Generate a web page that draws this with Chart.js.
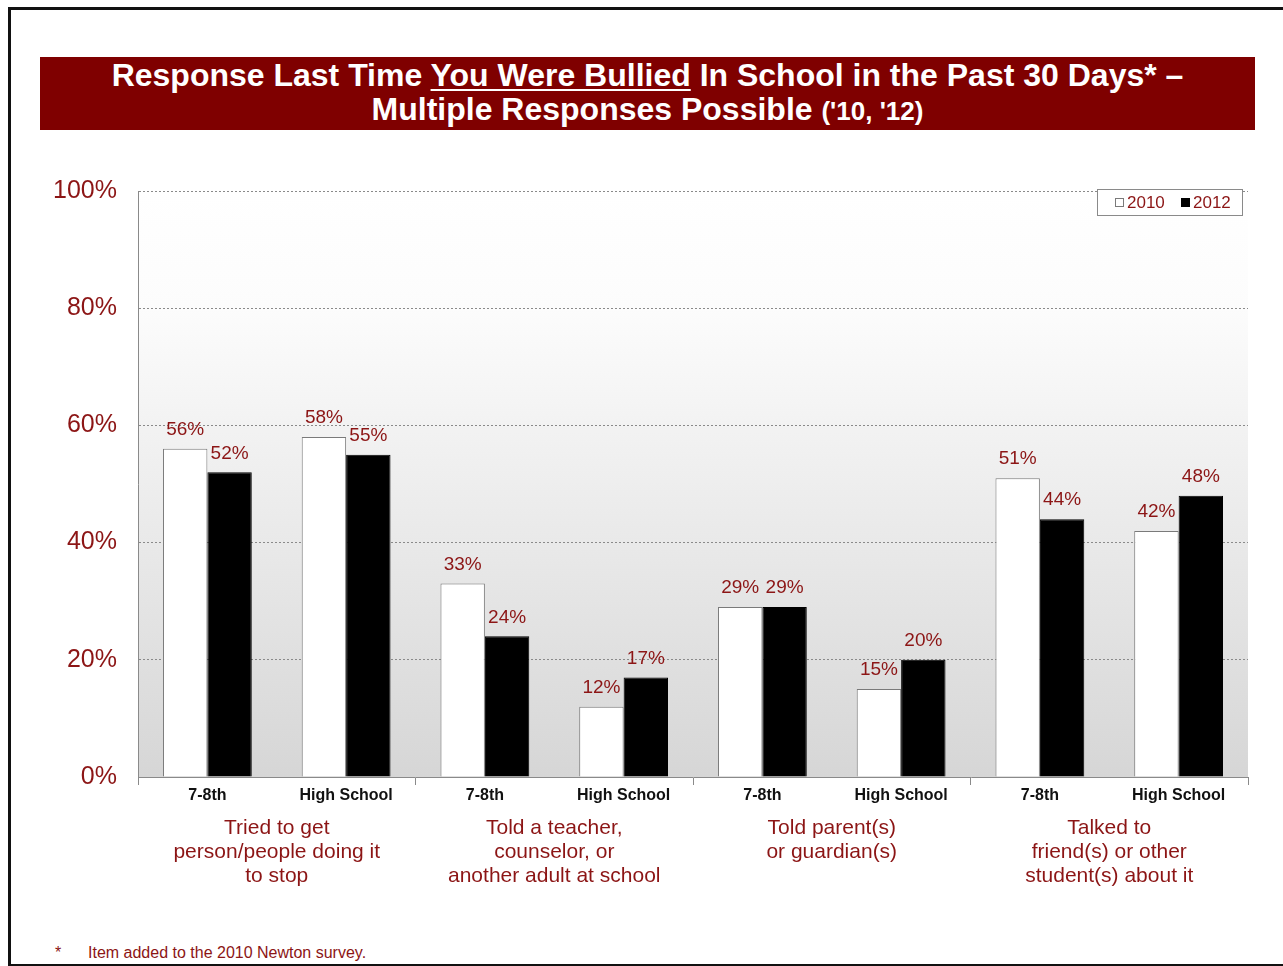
<!DOCTYPE html>
<html>
<head>
<meta charset="utf-8">
<script src="https://cdn.jsdelivr.net/npm/chart.js@4.4.1/dist/chart.umd.min.js"></script>
<style>
  body { margin: 0; background: #fff; width: 1283px; height: 966px; overflow: hidden; position: relative; font-family: 'Liberation Sans', Arial, sans-serif; }
  #slide { position: absolute; left: 8px; top: 7px; width: 1300px; height: 954px; border: 3px solid #111; border-right: none; }
  #banner { position: absolute; left: 40px; top: 57px; width: 1215px; height: 73px; background: #7f0000; color: #fff; text-align: center; font-weight: bold; }
  #banner .line { font-size: 32px; line-height: 34px; white-space: nowrap; }
  #banner .line:first-child { padding-top: 1px; }
  #banner u { text-decoration-thickness: 2px; text-underline-offset: 3px; }
  #banner .yrs { font-size: 26px; }
  #chartBox { position: absolute; left: 40px; top: 155px; }
  #note { position: absolute; left: 55px; top: 944px; font-size: 16px; color: #8c1515; white-space: nowrap; }
  #note span { display: inline-block; width: 33px; }
</style>
</head>
<body>
<div id="slide"></div>
<div id="banner">
  <div class="line">Response Last Time <u>You Were Bullied</u> In School in the Past 30 Days* –</div>
  <div class="line">Multiple Responses Possible <span class="yrs">('10, '12)</span></div>
</div>
<div id="chartBox"><canvas id="chart" width="1220" height="745"></canvas></div>
<div id="note"><span>*</span>Item added to the 2010 Newton survey.</div>

<script>
// RESPONSES DATA //

const schoolLevels = ['7-8th', 'High School', '7-8th', 'High School', '7-8th', 'High School', '7-8th', 'High School'];
const responseGroups = [
    ['Tried to get', 'person/people doing it', 'to stop'],
    ['Told a teacher,', 'counselor, or', 'another adult at school'],
    ['Told parent(s)', 'or guardian(s)'],
    ['Talked to', 'friend(s) or other', 'student(s) about it']
];
const seriesNames = ['2010', '2012'];
const values2010 = [56, 58, 33, 12, 29, 15, 51, 42];
const values2012 = [52, 55, 24, 17, 29, 20, 44, 48];
const percentTicks = [0, 20, 40, 60, 80, 100];

const darkRed = '#8c1515';
const axisGrey = '#8a8a8a';
const fontFamily = "'Liberation Sans', Arial, sans-serif";

// PLOT BACKGROUND //

const plotBackground = {
    id: 'plotBackground',
    beforeDraw(chart) {
        const { ctx, chartArea } = chart;
        const grad = ctx.createLinearGradient(0, chartArea.top, 0, chartArea.bottom);
        grad.addColorStop(0, '#ffffff');
        grad.addColorStop(0.2, '#fcfcfc');
        grad.addColorStop(1, '#d6d6d6');
        ctx.save();
        ctx.fillStyle = grad;
        ctx.fillRect(chartArea.left, chartArea.top, chartArea.right - chartArea.left, chartArea.bottom - chartArea.top);
        ctx.restore();
    }
};

// VALUE LABELS //

const valueLabels = {
    id: 'valueLabels',
    afterDatasetsDraw(chart) {
        const { ctx } = chart;
        ctx.save();
        ctx.font = '19px ' + fontFamily;
        ctx.fillStyle = darkRed;
        ctx.textAlign = 'center';
        ctx.textBaseline = 'middle';
        chart.data.datasets.forEach((ds, i) => {
            chart.getDatasetMeta(i).data.forEach((bar, j) => {
                ctx.fillText(ds.data[j] + '%', bar.x, bar.y - 19);
            });
        });
        ctx.restore();
    }
};

// BOXED LEGEND //

const boxedLegend = {
    id: 'boxedLegend',
    afterDraw(chart) {
        const { ctx, chartArea } = chart;
        const w = 145, h = 26;
        const x = chartArea.right - 6 - w;
        const y = chartArea.top - 2;
        ctx.save();
        ctx.fillStyle = '#ffffff';
        ctx.fillRect(x, y, w, h);
        ctx.strokeStyle = axisGrey;
        ctx.lineWidth = 1;
        ctx.strokeRect(x + 0.5, y + 0.5, w, h);
        ctx.font = '17px ' + fontFamily;
        ctx.textBaseline = 'middle';
        let cx = x + 18;
        chart.data.datasets.forEach(ds => {
            ctx.fillStyle = ds.backgroundColor;
            ctx.fillRect(cx, y + 9, 9, 9);
            ctx.strokeStyle = ds.borderColor;
            ctx.strokeRect(cx + 0.5, y + 9.5, 8, 8);
            ctx.fillStyle = darkRed;
            ctx.fillText(ds.label, cx + 12, y + 14);
            cx += 66;
        });
        ctx.restore();
    }
};

// BAR CHART //

const bullyChart = new Chart(document.getElementById('chart'), {
    type: 'bar',
    data: {
        labels: schoolLevels,
        datasets: [{
            label: seriesNames[0],
            data: values2010,
            backgroundColor: '#ffffff',
            borderColor: '#7a7a7a',
            borderWidth: 1,
            xAxisID: 'x'
        }, {
            label: seriesNames[1],
            data: values2012,
            backgroundColor: '#000000',
            borderColor: '#000000',
            borderWidth: 1,
            xAxisID: 'x'
        }]
    },
    options: {
        responsive: false,
        animation: false,
        categoryPercentage: 0.64,
        barPercentage: 1,
        layout: { padding: { top: 15, right: 12, left: 0, bottom: 0 } },
        plugins: {
            legend: { display: false },
            tooltip: { enabled: false }
        },
        scales: {
            x: {
                type: 'category',
                position: 'bottom',
                grid: {
                    offset: true,
                    drawOnChartArea: false,
                    tickLength: 8,
                    color: c => (c.index === undefined || c.index % 2 === 0) ? axisGrey : 'rgba(0,0,0,0)',
                    tickColor: c => (c.index === undefined || c.index % 2 === 0) ? axisGrey : 'rgba(0,0,0,0)'
                },
                border: { display: true, color: axisGrey, width: 1 },
                ticks: {
                    color: '#111',
                    font: { family: fontFamily, size: 16, weight: 'bold' },
                    padding: 1,
                    maxRotation: 0,
                    autoSkip: false
                },
                afterFit: s => { s.height = 30; }
            },
            group: {
                type: 'category',
                axis: 'x',
                position: 'bottom',
                labels: responseGroups,
                offset: true,
                grid: { display: false, drawTicks: false },
                border: { display: false },
                ticks: {
                    color: darkRed,
                    font: { family: fontFamily, size: 21, lineHeight: 1.143 },
                    padding: 9,
                    maxRotation: 0,
                    autoSkip: false
                },
                afterFit: s => { s.height = 93; }
            },
            y: {
                min: percentTicks[0],
                max: percentTicks[percentTicks.length - 1],
                afterBuildTicks: s => { s.ticks = percentTicks.map(v => ({ value: v })); },
                grid: {
                    drawTicks: false,
                    color: c => (c.tick && c.tick.value === 0) ? 'rgba(0,0,0,0)' : axisGrey,
                    lineWidth: 1
                },
                border: { display: true, color: axisGrey, width: 1, dash: [2, 2] },
                ticks: {
                    color: darkRed,
                    font: { family: fontFamily, size: 25 },
                    padding: 21,
                    callback: v => v + '%'
                },
                afterFit: s => { s.width = 98; }
            }
        }
    },
    plugins: [plotBackground, valueLabels, boxedLegend]
});
</script>
</body>
</html>
